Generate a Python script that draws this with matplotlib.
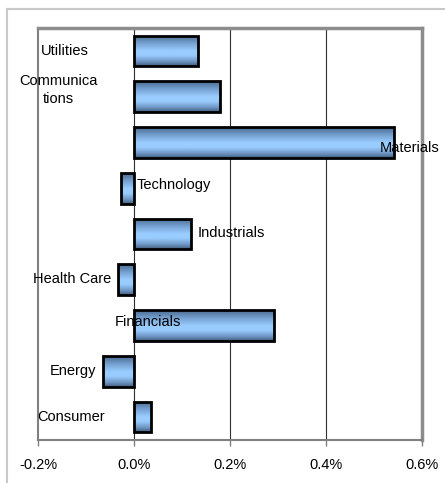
import matplotlib
matplotlib.use("Agg")
import matplotlib.pyplot as plt
import numpy as np
from matplotlib.colors import LinearSegmentedColormap
from matplotlib.lines import Line2D

plt.rcParams['font.family'] = ['Liberation Sans', 'DejaVu Sans']

categories = ["Utilities", "Communica\ntions", "Materials", "Technology", "Industrials",
              "Health Care", "Financials", "Energy", "Consumer"]
values = [0.133, 0.179, 0.542, -0.027, 0.119, -0.033, 0.292, -0.065, 0.035]
xticks = [-0.2, 0.0, 0.2, 0.4, 0.6]
xtick_labels = ["-0.2%", "0.0%", "0.2%", "0.4%", "0.6%"]

# label placement (x in %, y offset in bar units, alignment)
label_pos = [(-0.194, 0.0, 'left'), (-0.158, -0.14, 'center'), (0.5125, 0.12, 'left'),
             (0.006, -0.07, 'left'), (0.133, -0.02, 'left'), (-0.048, -0.02, 'right'),
             (-0.040, -0.08, 'left'), (-0.079, -0.01, 'right'), (-0.060, 0.0, 'right')]

W, H = 445, 483
fig = plt.figure(figsize=(W / 100, H / 100), dpi=100)
fig.patch.set_facecolor('white')

# outer chart frame
fig.add_artist(Line2D([7 / W, 7 / W], [0, 1 - 9 / H], color='#c8c8c8', lw=1.5))
fig.add_artist(Line2D([7 / W, 1], [1 - 9 / H, 1 - 9 / H], color='#c8c8c8', lw=1.5))

ax = fig.add_axes([38 / W, 1 - 440 / H, (422 - 38) / W, (440 - 28) / H])

cmap = LinearSegmentedColormap.from_list(
    'bar', [(0.0, '#4a6a8e'), (0.25, '#74a0cf'), (0.5, '#99ccff'), (0.65, '#99ccff'),
            (0.85, '#7099c6'), (1.0, '#445f80')])
grad = np.linspace(0, 1, 64).reshape(-1, 1)

bh = 0.67
for i, v in enumerate(values):
    bars = ax.barh(i, v, height=bh, color='none', edgecolor='black', linewidth=2, zorder=3)
    rect = bars.patches[0]
    x0, x1 = sorted([0, v])
    im = ax.imshow(grad, cmap=cmap, aspect='auto', extent=[x0, x1, i + bh / 2, i - bh / 2],
                   zorder=2, interpolation='bilinear')
    im.set_clip_path(rect)

ax.set_xlim(-0.2, 0.6)
ax.set_ylim(len(categories) - 0.5, -0.5)

for i, (lab, (lx, dy, ha)) in enumerate(zip(categories, label_pos)):
    ax.text(lx, i + dy, lab, ha=ha, va='center', multialignment='center',
            fontsize=10.5, color='black', zorder=5, linespacing=1.35)

for gx in [0.0, 0.2, 0.4]:
    ax.axvline(gx, color='#303030', lw=0.8, zorder=1)

ax.set_xticks(xticks)
ax.set_xticklabels(xtick_labels, fontsize=10.5)
ax.set_yticks([])
ax.tick_params(axis='x', direction='out', length=4, width=1, color='#808080', pad=9)

for s in ['left', 'bottom']:
    ax.spines[s].set_color('#808080')
    ax.spines[s].set_linewidth(1.5)
for s in ['top', 'right']:
    ax.spines[s].set_color('#8c8c8c')
    ax.spines[s].set_linewidth(2.5)

fig.savefig('out.png', dpi=100)
